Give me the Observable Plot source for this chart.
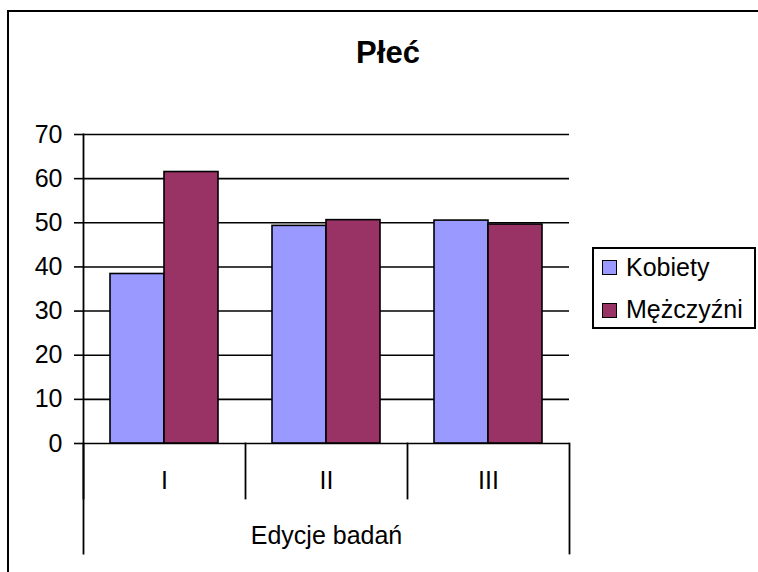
<!DOCTYPE html>
<html>
<head>
<meta charset="utf-8">
<script src="https://cdn.jsdelivr.net/npm/d3@7"></script>
<script src="https://cdn.jsdelivr.net/npm/@observablehq/plot@0.6"></script>
<style>
  html, body { margin: 0; padding: 0; background: #fff; }
  #wrap { position: relative; width: 758px; height: 572px; overflow: hidden;
          font-family: "Liberation Sans", Arial, sans-serif; color: #000; background: #fff; }
  #border { position: absolute; left: 7px; top: 10px; width: 800px; height: 600px; border: 2px solid #000; }
  #chart { position: absolute; left: 0; top: 0; }
  #title { position: absolute; left: 288px; width: 200px; top: 37px; text-align: center;
           font-weight: bold; font-size: 31px; line-height: 31px; }
  #legend { position: absolute; left: 592px; top: 247px; width: 160px; height: 78px;
            border: 2px solid #000; background: #fff; }
  .sw { position: absolute; left: 8px; width: 15px; height: 15px; box-sizing: border-box; border: 1.5px solid #000; }
  .lt { position: absolute; left: 32px; font-size: 25px; line-height: 25px; white-space: nowrap; }
</style>
</head>
<body>
<div id="wrap">
  <div id="border"></div>
  <div id="chart"></div>
  <div id="title"></div>
  <div id="legend"></div>
</div>
<script>
const title = "Płeć";
const categories = ["I", "II", "III"];
const series = ["Kobiety", "Mężczyźni"];
const kobiety = [38.4, 49.3, 50.5];
const mezczyzni = [61.5, 50.6, 49.6];
const colors = ["#9999FF", "#993366"];
const yTicks = [0, 10, 20, 30, 40, 50, 60, 70];
const xLabel = "Edycje badań";

const data = categories.flatMap((c, i) => [
  {cat: c, series: series[0], value: kobiety[i]},
  {cat: c, series: series[1], value: mezczyzni[i]}
]);

const W = 758, H = 572, mL = 82, mR = 188, mT = 134, mB = 129;
const plotH = H - mT - mB;
const font = "'Liberation Sans', Arial, sans-serif";

const plot = Plot.plot({
  width: W, height: H,
  marginLeft: mL, marginRight: mR, marginTop: mT, marginBottom: mB,
  style: {fontFamily: font, fontSize: "25px", color: "#000", background: "transparent"},
  fx: {domain: categories, paddingInner: 0, paddingOuter: 0, label: null},
  x: {domain: series, paddingInner: 0, paddingOuter: 0.5, axis: null},
  y: {domain: [0, 70]},
  color: {domain: series, range: colors},
  marks: [
    Plot.gridY(yTicks, {stroke: "#000", strokeOpacity: 1, strokeWidth: 1.6}),
    Plot.barY(data, {fx: "cat", x: "series", y: "value", fill: "series", stroke: "#000", strokeWidth: 1.6}),
    Plot.axisY(yTicks, {tickSize: 9, tickPadding: 12, fontSize: 25, label: null, strokeWidth: 1.6}),
    Plot.axisFx({anchor: "bottom", tickSize: 0, tickPadding: 28, fontSize: 25,
                 label: xLabel, labelAnchor: "center", labelOffset: 100}),
    Plot.frame({anchor: "left", facetAnchor: "left", insetBottom: -110, strokeWidth: 1.8}),
    Plot.frame({anchor: "left", insetTop: plotH, insetBottom: -55, strokeWidth: 1.8}),
    Plot.frame({anchor: "right", facetAnchor: "right", insetTop: plotH, insetBottom: -110, strokeWidth: 1.8})
  ]
});
document.getElementById("chart").appendChild(plot);

document.getElementById("title").textContent = title;

const legend = document.getElementById("legend");
series.forEach((s, i) => {
  const sw = document.createElement("div");
  sw.className = "sw";
  sw.style.top = (11 + i * 43) + "px";
  sw.style.background = colors[i];
  legend.appendChild(sw);
  const t = document.createElement("div");
  t.className = "lt";
  t.style.top = (6 + i * 42) + "px";
  t.textContent = s;
  legend.appendChild(t);
});
</script>
</body>
</html>
